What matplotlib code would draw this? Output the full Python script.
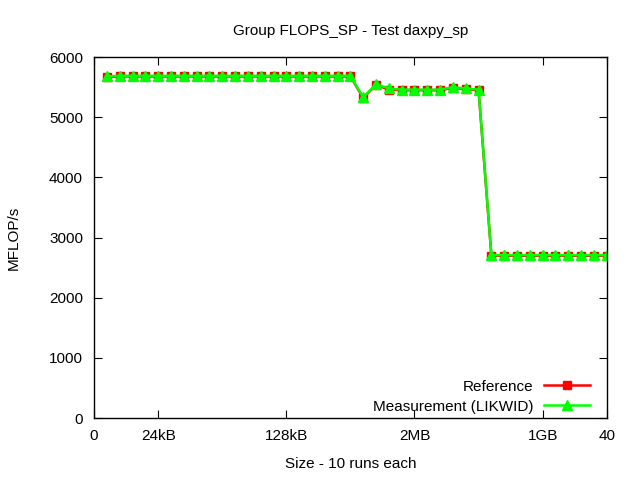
import matplotlib
matplotlib.use("Agg")
import matplotlib.pyplot as plt

plt.rcParams['font.family'] = ['Liberation Sans', 'DejaVu Sans']

x = list(range(1, 41))
reference = [5670] + [5680] * 19 + [5320, 5540, 5460, 5450, 5450, 5450, 5450, 5490, 5470, 5450] + [2700] * 10
measurement = [5680] + [5690] * 19 + [5330, 5550, 5480, 5460, 5460, 5460, 5460, 5500, 5480, 5460] + [2710] * 10

tick_pos = [0, 5, 15, 25, 35, 40]
tick_labels = ['0', '24kB', '128kB', '2MB', '1GB', '40']

fig = plt.figure(figsize=(6.4, 4.8), dpi=100)
ax = fig.add_axes([0.147, 0.129, 0.801, 0.752])

ax.plot(x, reference, color='#ff0000', lw=1.8, marker='s', ms=6, label='Reference')
ax.plot(x, measurement, color='#00ff00', lw=1.8, marker='^', ms=7, label='Measurement (LIKWID)')

ax.set_xlim(0, 40)
ax.set_ylim(0, 6000)
ax.set_xticks(tick_pos)
ax.set_xticklabels(tick_labels)
ax.set_yticks(range(0, 6001, 1000))
ax.tick_params(direction='in', top=True, right=True, length=6, labelsize=11, pad=8)
for s in ax.spines.values():
    s.set_linewidth(1.0)

ax.set_title('Group FLOPS_SP - Test daxpy_sp', fontsize=11, pad=16)
ax.set_xlabel('Size - 10 runs each', fontsize=11, labelpad=10)
ax.set_ylabel('MFLOP/s', fontsize=11, labelpad=20)

ax.legend(loc='lower right', bbox_to_anchor=(0.968, 0.012), frameon=False, markerfirst=False, fontsize=11,
          handlelength=3, handletextpad=0.7, borderaxespad=0, borderpad=0, labelspacing=0.4)

fig.savefig('out.png', dpi=100)
